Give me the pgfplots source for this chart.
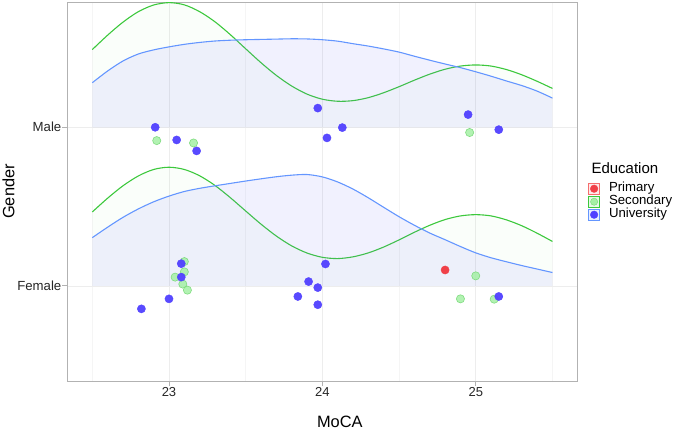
\documentclass[border=0pt]{standalone}
\usepackage{fontspec}
\setmainfont{Liberation Sans}
\usepackage{pgfplots}
\usepackage{pgfplotstable}
\pgfplotsset{compat=1.18}
\definecolor{gline}{RGB}{60,200,60}
\definecolor{bline}{RGB}{100,150,255}
\definecolor{bfill}{RGB}{115,118,245}
\definecolor{pred}{RGB}{240,64,72}
\definecolor{pgreen}{RGB}{165,240,165}
\definecolor{pgreenb}{RGB}{115,215,115}
\definecolor{pblue}{RGB}{80,64,255}
\definecolor{kred}{RGB}{245,110,110}

\pgfplotstableread{
x y
22.5 2.490
22.6 2.581
22.7 2.663
22.8 2.729
22.9 2.771
23.0 2.786
23.1 2.772
23.2 2.729
23.3 2.665
23.4 2.584
23.5 2.495
23.6 2.407
23.7 2.327
23.8 2.260
23.9 2.209
24.0 2.177
24.1 2.164
24.2 2.168
24.3 2.187
24.4 2.218
24.5 2.256
24.6 2.297
24.7 2.335
24.8 2.366
24.9 2.386
25.0 2.393
25.1 2.386
25.2 2.364
25.3 2.331
25.4 2.290
25.5 2.245
}\maleSec

\pgfplotstableread{
x y
22.5 1.466
22.6 1.553
22.7 1.631
22.8 1.693
22.9 1.734
23.0 1.748
23.1 1.734
23.2 1.694
23.3 1.633
23.4 1.556
23.5 1.472
23.6 1.389
23.7 1.314
23.8 1.252
23.9 1.207
24.0 1.180
24.1 1.172
24.2 1.183
24.3 1.208
24.4 1.245
24.5 1.290
24.6 1.338
24.7 1.382
24.8 1.418
24.9 1.441
25.0 1.449
25.1 1.441
25.2 1.416
25.3 1.379
25.4 1.332
25.5 1.280
}\femSec

\pgfplotstableread{
x y
22.5 2.281
22.6 2.355
22.7 2.418
22.8 2.462
22.9 2.488
23.0 2.507
23.1 2.523
23.2 2.535
23.3 2.544
23.4 2.549
23.5 2.552
23.6 2.554
23.7 2.556
23.8 2.558
23.9 2.557
24.0 2.552
24.1 2.543
24.2 2.527
24.3 2.512
24.4 2.494
24.5 2.474
24.6 2.448
24.7 2.423
24.8 2.399
24.9 2.376
25.0 2.350
25.1 2.322
25.2 2.292
25.3 2.263
25.4 2.228
25.5 2.184
}\maleUni

\pgfplotstableread{
x y
22.5 1.304
22.6 1.370
22.7 1.432
22.8 1.485
22.9 1.530
23.0 1.566
23.1 1.595
23.2 1.615
23.3 1.631
23.4 1.646
23.5 1.661
23.6 1.675
23.7 1.688
23.8 1.698
23.9 1.702
24.0 1.687
24.1 1.655
24.2 1.610
24.3 1.555
24.4 1.495
24.5 1.436
24.6 1.382
24.7 1.333
24.8 1.291
24.9 1.248
25.0 1.208
25.1 1.177
25.2 1.152
25.3 1.128
25.4 1.106
25.5 1.084
}\femUni

\pgfplotstableread{
x y
24.80 1.100
}\ptPrim

\pgfplotstableread{
x y
22.92 1.916
23.16 1.901
24.96 1.967
23.10 1.153
23.10 1.088
23.04 1.055
23.09 1.011
23.12 0.973
25.00 1.063
24.90 0.918
25.12 0.916
}\ptSec

\pgfplotstableread{
x y
22.91 2.000
23.05 1.920
23.18 1.851
23.97 2.121
24.03 1.933
24.13 1.998
24.95 2.080
25.15 1.985
23.08 1.140
23.08 1.055
23.00 0.918
22.82 0.855
23.91 1.027
23.97 0.989
23.84 0.933
23.97 0.881
24.02 1.138
25.15 0.933
}\ptUni

\begin{document}
\begin{tikzpicture}
\path[use as bounding box] (-67pt,-50pt) rectangle (608pt,381pt);
\begin{axis}[
  at={(0pt,0pt)}, anchor=south west,
  scale only axis, width=510pt, height=379pt,
  clip mode=individual,
  xmin=22.335, xmax=25.66, ymin=0.40, ymax=2.79,
  xtick={23,24,25}, minor xtick={22.5,23.5,24.5,25.5},
  ytick={1,2}, yticklabels={Female,Male},
  xtick pos=left, ytick pos=left,
  tick align=outside, major tick length=4.5pt, minor tick length=0pt,
  tick style={gray!60, line width=0.8pt},
  axis line style={gray!60, line width=0.8pt},
  grid=both,
  major grid style={gray!14, line width=0.7pt},
  minor grid style={gray!8, line width=0.5pt},
  /pgf/number format/assume math mode=true,
  xticklabel style={font=\fontsize{13}{15}\selectfont, text=black!85, inner sep=1.5pt},
  yticklabel style={font=\fontsize{13.2}{15}\selectfont, text=black!85, inner sep=1pt},
  xlabel={MoCA}, ylabel={Gender},
  label style={font=\fontsize{16.4}{18}\selectfont},
  xlabel style={at={(axis description cs:0.535,-0.1240)}, anchor=base},
  ylabel style={at={(axis description cs:-0.1147,0.5)}, anchor=center},
  legend cell align=left,
  legend style={at={(axis description cs:1.0216,0.525)}, anchor=north west,
    draw=none, fill=none, inner sep=0pt, row sep=0pt,
    font=\fontsize{13.2}{15}\selectfont,
    nodes={inner ysep=0pt, text height=9.6pt, text depth=3.4pt},
    /tikz/every odd column/.append style={column sep=7pt}},
]
\addlegendimage{legend image code/.code={\draw[draw=kred, fill=kred!15, line width=0.8pt] (0pt,-5.5pt) rectangle (11pt,5.5pt); \fill[pred] (5.5pt,0pt) circle (3.8pt);}}
\addlegendentry{Primary}
\addlegendimage{legend image code/.code={\draw[draw=gline, fill=gline!12, line width=0.8pt] (0pt,-5.5pt) rectangle (11pt,5.5pt); \filldraw[draw=pgreenb, fill=pgreen] (5.5pt,0pt) circle (3.6pt);}}
\addlegendentry{Secondary}
\addlegendimage{legend image code/.code={\draw[draw=bline, fill=bline!15, line width=0.8pt] (0pt,-5.5pt) rectangle (11pt,5.5pt); \fill[pblue] (5.5pt,0pt) circle (3.8pt);}}
\addlegendentry{University}

% Female ridge
\addplot[fill=gline, fill opacity=0.025, draw=none, forget plot] table {\femSec} -- (axis cs:25.5,1) -- (axis cs:22.5,1) -- cycle;
\addplot[gline, line width=1.1pt, smooth, forget plot] table {\femSec};
\addplot[fill=bfill, fill opacity=0.1, draw=none, forget plot] table {\femUni} -- (axis cs:25.5,1) -- (axis cs:22.5,1) -- cycle;
\addplot[bline, line width=1.1pt, smooth, forget plot] table {\femUni};

% Male ridge
\addplot[fill=gline, fill opacity=0.025, draw=none, forget plot] table {\maleSec} -- (axis cs:25.5,2) -- (axis cs:22.5,2) -- cycle;
\addplot[gline, line width=1.1pt, smooth, forget plot] table {\maleSec};
\addplot[fill=bfill, fill opacity=0.1, draw=none, forget plot] table {\maleUni} -- (axis cs:25.5,2) -- (axis cs:22.5,2) -- cycle;
\addplot[bline, line width=1.1pt, smooth, forget plot] table {\maleUni};

% points
\addplot[only marks, mark=*, mark size=4.1pt, mark options={fill=pred, draw=pred}, forget plot] table {\ptPrim};
\addplot[only marks, mark=*, mark size=4.1pt, mark options={fill=pgreen, draw=pgreenb, line width=0.6pt, opacity=0.85}, forget plot] table {\ptSec};
\addplot[only marks, mark=*, mark size=4.1pt, mark options={fill=pblue, draw=pblue, opacity=0.95}, forget plot] table {\ptUni};

\node[anchor=base west, font=\fontsize{15}{17}\selectfont] at (axis description cs:1.0216,0.5488) {Education};
\end{axis}
\end{tikzpicture}
\end{document}
